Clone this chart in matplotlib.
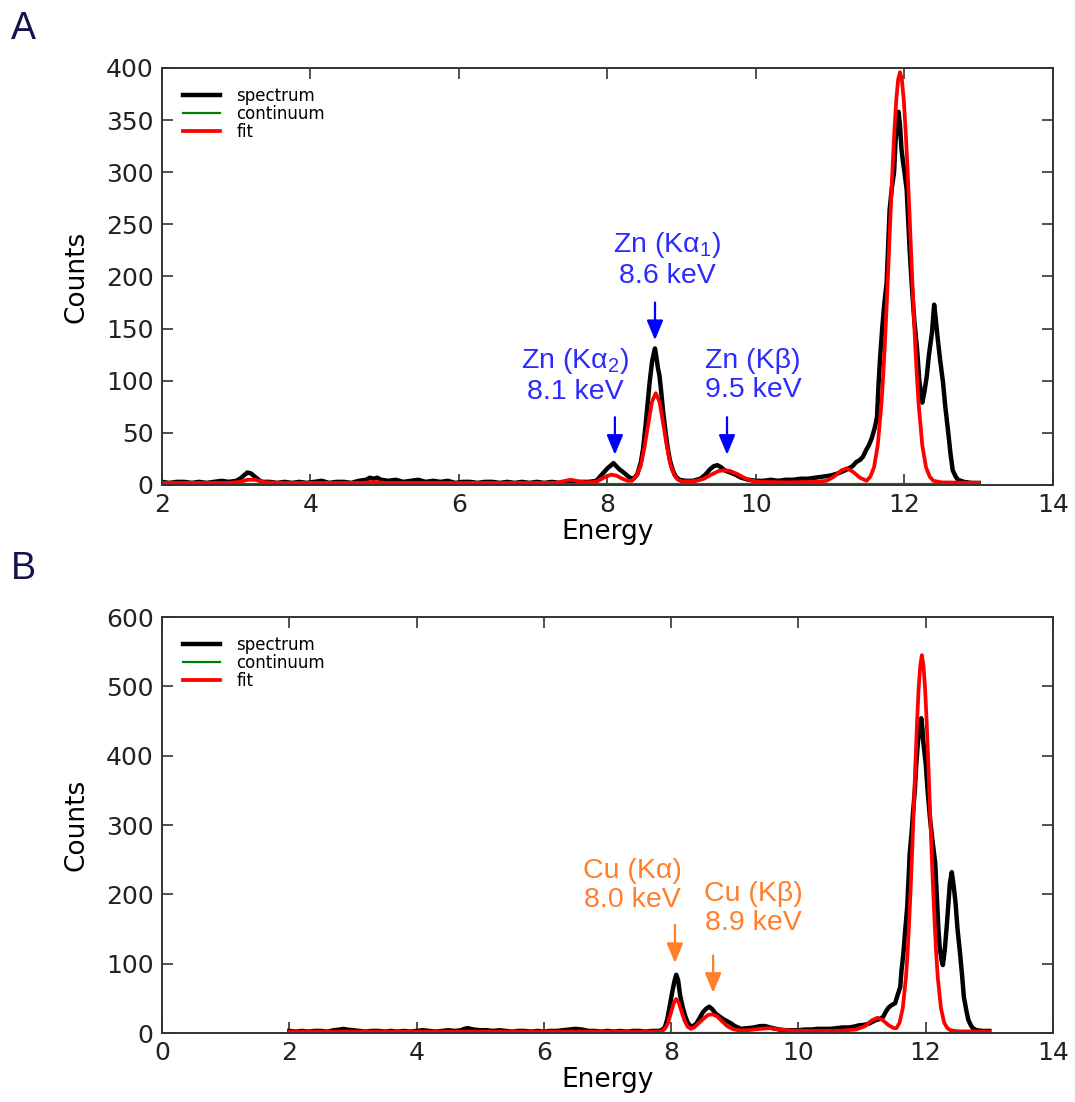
import numpy as np
import matplotlib
matplotlib.use("Agg")
import matplotlib.pyplot as plt

# ---- painel A : espectro (Zn) ----
energia_a = [2.0, 2.1, 2.2, 2.3, 2.4, 2.5, 2.6, 2.7, 2.8, 2.9, 3.0, 3.05, 3.1, 3.15, 3.2, 3.25, 3.3, 3.35,
             3.45, 3.55, 3.65, 3.75, 3.85, 3.95, 4.05, 4.15, 4.25, 4.35, 4.45, 4.55, 4.65, 4.75, 4.8, 4.85,
             4.9, 4.95, 5.05, 5.15, 5.25, 5.35, 5.45, 5.55, 5.65, 5.75, 5.85, 5.95, 6.05, 6.15, 6.25, 6.35,
             6.45, 6.55, 6.65, 6.75, 6.85, 6.95, 7.05, 7.15, 7.25, 7.35, 7.45, 7.55, 7.65, 7.75, 7.85, 7.9,
             7.95, 8.0, 8.05, 8.08, 8.12, 8.16, 8.2, 8.25, 8.3, 8.35, 8.4, 8.45, 8.48, 8.51, 8.54, 8.57,
             8.6, 8.62, 8.64, 8.66, 8.68, 8.7, 8.72, 8.75, 8.78, 8.81, 8.84, 8.88, 8.92, 8.97, 9.05, 9.15,
             9.25, 9.32, 9.38, 9.43, 9.48, 9.53, 9.58, 9.65, 9.72, 9.8, 9.9, 10.0, 10.1, 10.2, 10.3, 10.4,
             10.5, 10.6, 10.7, 10.8, 10.9, 11.0, 11.1, 11.2, 11.3, 11.35, 11.4, 11.44, 11.48, 11.52, 11.56,
             11.6, 11.63, 11.65, 11.67, 11.7, 11.73, 11.76, 11.78, 11.8, 11.83, 11.86, 11.88, 11.9, 11.92,
             11.94, 11.96, 11.98, 12.0, 12.03, 12.05, 12.07, 12.1, 12.13, 12.17, 12.2, 12.24, 12.27, 12.3,
             12.33, 12.37, 12.4, 12.42, 12.45, 12.48, 12.52, 12.55, 12.59, 12.62, 12.65, 12.69, 12.72, 12.8,
             12.9, 13.0]
espectro_a = [3, 2, 3, 3, 2, 3, 2, 3, 4, 3, 4, 6, 9, 12, 11, 8, 5, 3,
              3, 2, 3, 2, 3, 2, 3, 4, 2, 3, 3, 2, 4, 5, 7, 6,
              7, 5, 4, 5, 3, 4, 5, 3, 4, 3, 4, 2, 3, 3, 2, 3,
              3, 2, 3, 2, 3, 2, 3, 2, 3, 2, 3, 2, 3, 3, 4, 8,
              12, 16, 19, 21, 18, 15, 13, 10, 7, 6, 10, 22, 35, 55, 78, 100,
              118, 125, 131, 122, 112, 105, 92, 70, 52, 36, 24, 14, 8, 5, 4, 4,
              6, 10, 15, 18, 19, 17, 14, 12, 10, 7, 5, 4, 4, 5, 4, 5,
              5, 6, 6, 7, 8, 9, 11, 14, 18, 22, 24, 27, 33, 38, 45,
              55, 65, 95, 120, 150, 175, 194, 230, 264, 285, 300, 330, 345, 358,
              345, 322, 310, 300, 283, 255, 225, 190, 160, 130, 100, 79, 90, 104,
              125, 146, 173, 160, 139, 120, 98, 75, 50, 30, 14, 8, 5, 3,
              2, 2]
energia_ajuste_a = [2.0, 2.9, 3.05, 3.15, 3.25, 3.4, 3.6, 4.7, 4.85, 5.0, 7.3, 7.5, 7.7, 7.85, 7.95,
                    8.05, 8.12, 8.2, 8.27, 8.33, 8.4, 8.45, 8.5, 8.55, 8.6, 8.65, 8.7, 8.75, 8.8, 8.85,
                    8.9, 8.95, 9.0, 9.1, 9.2, 9.3, 9.4, 9.5, 9.58, 9.65, 9.75, 9.85, 9.95, 10.05, 10.4,
                    10.8, 10.95, 11.05, 11.15, 11.22, 11.3, 11.4, 11.49, 11.54, 11.59, 11.64, 11.69,
                    11.715, 11.74, 11.765, 11.79, 11.815, 11.84, 11.865, 11.89, 11.915, 11.94, 11.965,
                    11.99, 12.015, 12.04, 12.065, 12.09, 12.115, 12.14, 12.165, 12.19, 12.24, 12.29,
                    12.34, 12.39, 12.5, 13.0]
ajuste_a = [2, 2, 3, 5, 5, 2.5, 2, 2, 3, 2, 2, 5, 2.5, 3, 7,
            10, 9, 6, 4, 4, 10, 19, 37, 59, 80, 88, 80, 59, 37, 19,
            9.4, 5, 3.5, 3.5, 4, 6, 10, 13.5, 14, 13.5, 10.5, 6.5, 4, 3, 2.5,
            3, 4, 8, 14, 16, 13, 7, 4, 8, 17, 38, 78,
            107, 141, 180, 222, 265, 305, 341, 370, 389, 396, 389,
            370, 341, 305, 265, 222, 180, 141, 107, 78, 38, 17,
            8, 4, 2.5, 2]

# ---- painel B : espectro (Cu) ----
energia_b = [2.0, 2.1, 2.2, 2.3, 2.4, 2.5, 2.6, 2.7, 2.8, 2.85, 2.9, 3.0, 3.1, 3.2, 3.3, 3.4, 3.5, 3.6,
             3.7, 3.8, 3.9, 4.0, 4.1, 4.2, 4.3, 4.4, 4.5, 4.6, 4.7, 4.75, 4.8, 4.85, 4.9, 5.0, 5.1, 5.2,
             5.3, 5.4, 5.5, 5.6, 5.7, 5.8, 5.9, 6.0, 6.1, 6.2, 6.3, 6.4, 6.5, 6.6, 6.7, 6.8, 6.9, 7.0,
             7.1, 7.2, 7.3, 7.4, 7.5, 7.6, 7.7, 7.8, 7.85, 7.9, 7.94, 7.98, 8.02, 8.05, 8.08, 8.11, 8.14,
             8.18, 8.22, 8.26, 8.3, 8.35, 8.4, 8.45, 8.5, 8.55, 8.6, 8.65, 8.7, 8.76, 8.82, 8.88, 8.94,
             9.0, 9.1, 9.2, 9.3, 9.4, 9.48, 9.55, 9.7, 9.8, 9.9, 10.0, 10.1, 10.2, 10.3, 10.4, 10.5,
             10.6, 10.7, 10.8, 10.86, 10.95, 11.05, 11.12, 11.2, 11.27, 11.33, 11.37, 11.41, 11.46,
             11.52, 11.56, 11.6, 11.62, 11.65, 11.68, 11.71, 11.73, 11.75, 11.78, 11.8, 11.83, 11.85,
             11.88, 11.91, 11.93, 11.95, 11.96, 11.98, 12.0, 12.03, 12.07, 12.11, 12.15, 12.18, 12.2,
             12.22, 12.25, 12.27, 12.3, 12.33, 12.36, 12.38, 12.41, 12.44, 12.47, 12.5, 12.54, 12.57,
             12.6, 12.64, 12.67, 12.71, 12.74, 12.8, 12.9, 13.0]
espectro_b = [3, 2, 3, 2, 3, 3, 2, 4, 5, 6, 5, 4, 3, 2, 3, 3, 2, 3,
              2, 3, 2, 3, 4, 3, 2, 3, 4, 3, 4, 6, 7, 6, 5, 4, 4, 3,
              4, 3, 2, 3, 3, 2, 3, 2, 3, 3, 4, 5, 6, 5, 3, 3, 2, 3,
              2, 3, 2, 3, 3, 2, 3, 3, 4, 8, 20, 40, 60, 74, 84, 76, 55,
              38, 25, 15, 10, 10, 14, 22, 30, 35, 38, 34, 28, 24, 20, 17, 14,
              10, 6, 7, 8, 10, 10, 8, 5, 4, 4, 4, 5, 5, 6, 6, 6,
              7, 8, 8, 9, 11, 12, 14, 18, 20, 23, 30, 36, 40,
              43, 55, 66, 90, 115, 150, 182, 220, 260, 290, 317, 350, 385,
              422, 440, 454, 438, 422, 405, 389, 350, 307, 275, 245, 187, 150,
              124, 105, 98, 120, 153, 190, 216, 232, 212, 187, 150, 115, 85,
              52, 32, 19, 11, 7, 4, 3, 3]
energia_ajuste_b = [2.0, 7.8, 7.86, 7.9, 7.95, 8.0, 8.04, 8.08, 8.12, 8.16, 8.21, 8.26, 8.31, 8.36, 8.42,
                    8.5, 8.58, 8.65, 8.72, 8.8, 8.88, 8.96, 9.05, 9.2, 9.4, 9.55, 9.7, 9.9, 10.2, 10.6,
                    10.9, 11.05, 11.15, 11.24, 11.32, 11.42, 11.5, 11.54, 11.59, 11.64, 11.69, 11.715,
                    11.74, 11.765, 11.79, 11.815, 11.84, 11.865, 11.89, 11.915, 11.94, 11.965, 11.99,
                    12.015, 12.04, 12.065, 12.09, 12.115, 12.14, 12.165, 12.19, 12.24, 12.29, 12.34,
                    12.39, 12.5, 13.0]
ajuste_b = [2, 2, 3, 6, 14, 30, 43, 49, 44, 32, 18, 9, 6, 8, 13,
            20, 26, 27, 24, 17, 10, 6, 4, 4, 6, 7, 5, 3.5, 3, 3,
            5, 10, 18, 22, 19, 11, 7, 7, 15, 36, 80, 115,
            160, 210, 268, 330, 392, 450, 498, 530, 545, 530, 498,
            450, 392, 330, 268, 210, 160, 115, 80, 36, 15, 7,
            4, 2.5, 2]

# continuo (quase zero)
energia_continuo = [2.0, 13.0]
continuo = [0.6, 0.6]

plt.rcParams['mathtext.fontset'] = 'custom'
plt.rcParams['mathtext.rm'] = 'Liberation Sans'
plt.rcParams['mathtext.it'] = 'Liberation Sans'

fig = plt.figure(figsize=(10.75, 11.02), dpi=100)
ax_a = fig.add_axes([0.1507, 0.5599, 0.8288, 0.3784])
ax_b = fig.add_axes([0.1507, 0.0626, 0.8288, 0.3775])

def desenhar(ax, e, s, ef, f, xlim, ylim, yticks, xticks):
    ax.plot(e, s, color="black", lw=3.2, label="spectrum")
    ax.plot(energia_continuo, continuo, color="green", lw=1.6, label="continuum")
    ax.plot(ef, f, color="red", lw=2.7, label="fit")
    ax.set_xlim(xlim)
    ax.set_ylim(ylim)
    ax.set_xticks(xticks)
    ax.set_yticks(yticks)
    ax.tick_params(direction="in", top=True, right=True, length=8, width=1.1,
                   labelsize=18, pad=6, colors="#222222")
    for sp in ax.spines.values():
        sp.set_linewidth(1.4)
        sp.set_color("#333333")
    ax.set_xlabel("Energy", fontsize=19, labelpad=1)
    ax.set_ylabel("Counts", fontsize=19, labelpad=12)
    ax.legend(loc="upper left", frameon=False, fontsize=12, handlelength=2.2,
              labelspacing=0.0, handletextpad=1.0, borderaxespad=0.6,
              bbox_to_anchor=(0.005, 0.995))

desenhar(ax_a, energia_a, espectro_a, energia_ajuste_a, ajuste_a,
         (2, 14), (0, 400), np.arange(0, 401, 50), np.arange(2, 15, 2))
desenhar(ax_b, energia_b, espectro_b, energia_ajuste_b, ajuste_b,
         (0, 14), (0, 600), np.arange(0, 601, 100), np.arange(0, 15, 2))

azul_txt = "#2b2bff"
azul = "#0000ff"
laranja = "#ff7f2a"
fonte = ["Liberation Sans", "DejaVu Sans"]

def seta(ax, x, y0, y1, cor):
    ax.annotate("", xy=(x, y1), xytext=(x, y0),
                arrowprops=dict(arrowstyle="-|>,head_width=0.25,head_length=0.6",
                                color=cor, lw=1.6, shrinkA=0, shrinkB=0,
                                mutation_scale=20))

def rotulo(ax, x, y, texto, cor):
    ax.text(x, y, texto, color=cor, fontsize=20.5, ha="center", va="center",
            family=fonte, linespacing=1.15)

rotulo(ax_a, 8.80, 216, "Zn (Kα$_1$)\n8.6 keV", azul_txt)
rotulo(ax_a, 7.56, 105, "Zn (Kα$_2$)\n8.1 keV", azul_txt)
rotulo(ax_a, 9.96, 105, "Zn (Kβ)\n9.5 keV", azul_txt)
seta(ax_a, 8.64, 175, 139, azul)
seta(ax_a, 8.10, 65, 29, azul)
seta(ax_a, 9.61, 65, 29, azul)

rotulo(ax_b, 7.39, 213, "Cu (Kα)\n8.0 keV", laranja)
rotulo(ax_b, 9.30, 179, "Cu (Kβ)\n8.9 keV", laranja)
seta(ax_b, 8.06, 156, 101, laranja)
seta(ax_b, 8.66, 112, 58, laranja)

fig.text(0.010, 0.974, "A", fontsize=27, color="#14144a", family=fonte, va="center")
fig.text(0.010, 0.484, "B", fontsize=27, color="#14144a", family=fonte, va="center")

fig.savefig("out.png", dpi=100)
